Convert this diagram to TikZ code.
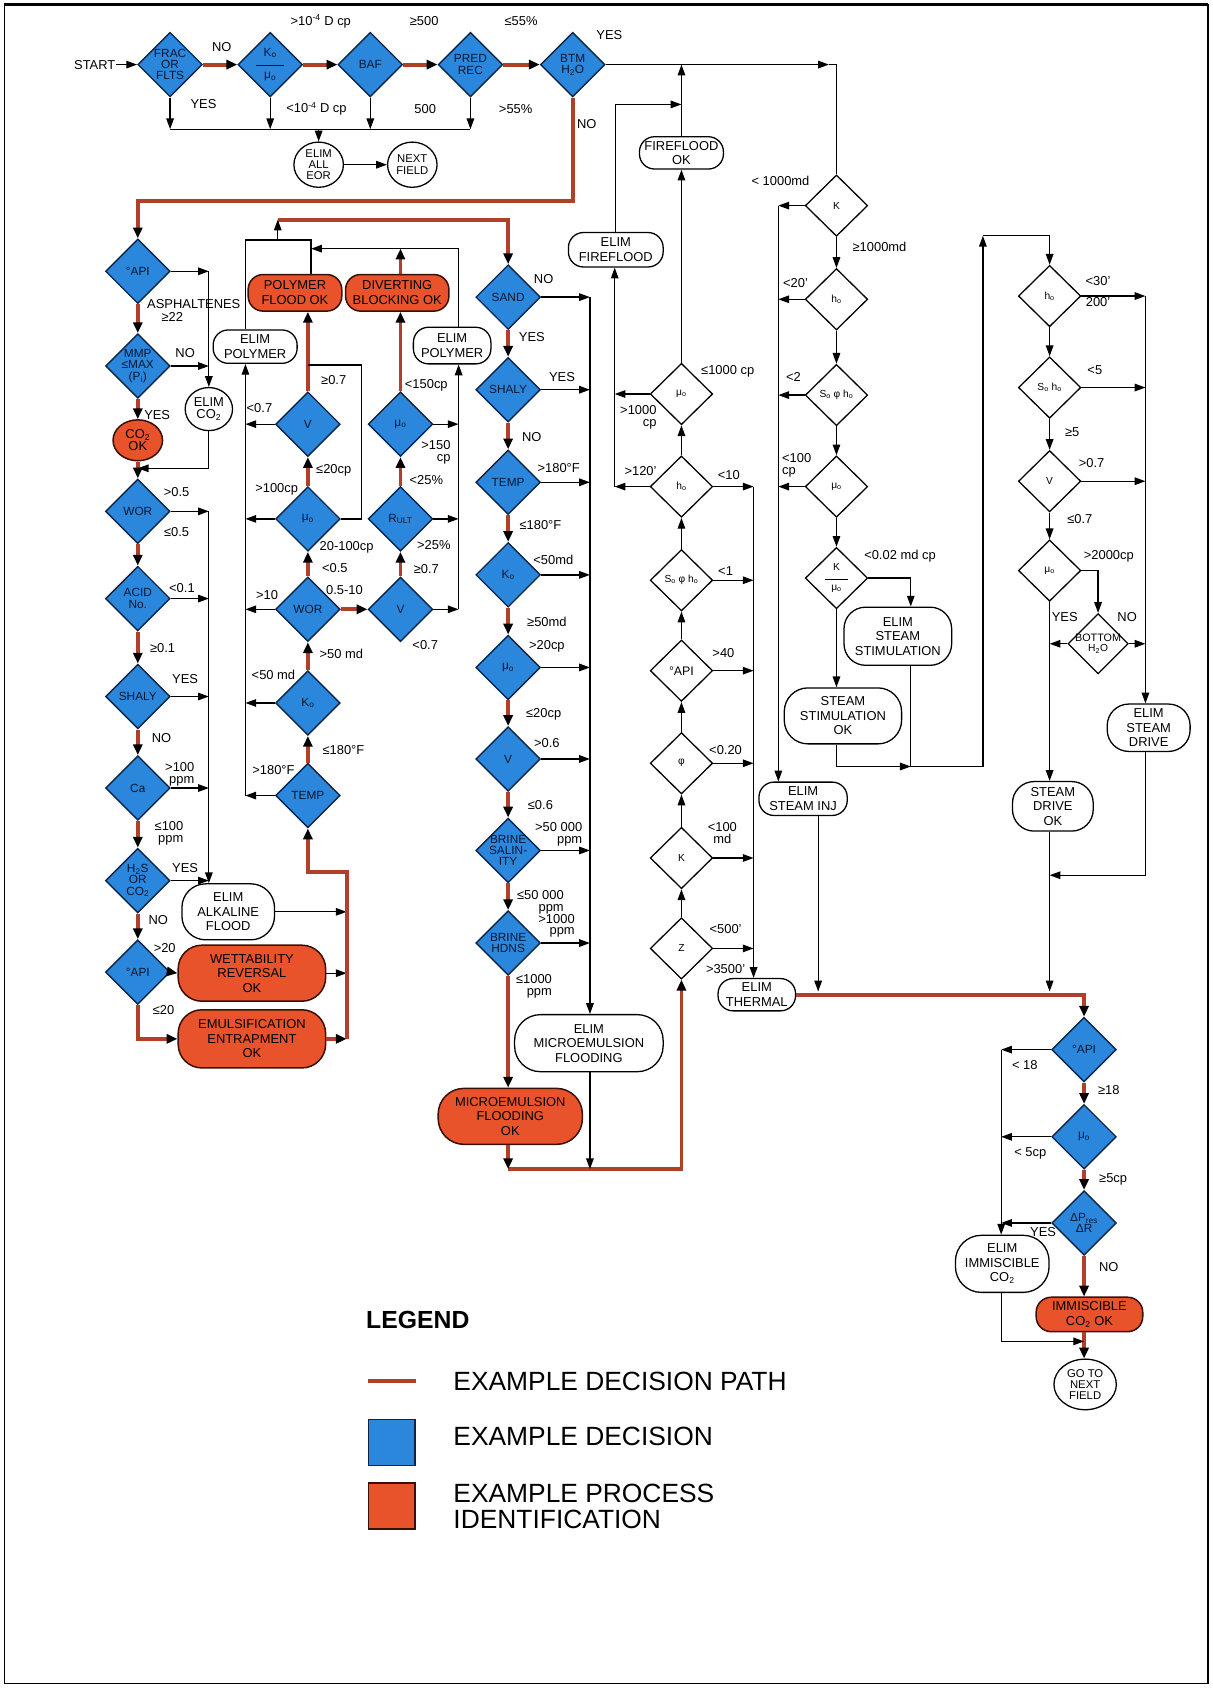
\documentclass[tikz,border=0pt]{standalone}
\usepackage{fontspec}
\setmainfont{Liberation Sans}
\usetikzlibrary{arrows.meta,shapes.geometric}
\definecolor{dblue}{HTML}{2A87DC}
\definecolor{bluedark}{HTML}{0B2447}
\definecolor{porange}{HTML}{E8532B}
\definecolor{odark}{HTML}{3A1006}
\definecolor{pathred}{HTML}{B0402A}
\definecolor{dtextc}{HTML}{081630}
\newcommand\Dia[4]{\node[#2] (#1) at (#3) {}; \node[dtx] (#1t) at (#1.center) {#4};}
\newcommand\Wia[4]{\node[#2] (#1) at (#3) {}; \node[wtx] (#1t) at (#1.center) {#4};}
\newcommand\lb[3]{\node[lab] (#1) at (#2) {#3};}
\newcommand\lbr[3]{\node[lab,align=right] (#1) at (#2) {#3};}
\newcommand\lbl[3]{\node[lab,align=left] (#1) at (#2) {#3};}
\newcommand\sub[1]{\textsubscript{#1}}
\tikzset{
 ln/.style={line width=1.2pt,draw=black},
 arr/.style={ln,-{Triangle[length=10pt,width=7pt]}},
 rp/.style={line width=3.6pt,draw=pathred},
 rarr/.style={rp,-{Triangle[length=10pt,width=8.5pt,color=black]}},
 bd/.style={diamond,draw=bluedark,fill=dblue,line width=1.3pt,minimum width=60pt,minimum height=60pt,inner sep=0pt},
 wd/.style={diamond,draw=black,fill=white,line width=1.2pt,minimum width=58pt,minimum height=57pt,inner sep=0pt},
 dtx/.style={text=dtextc,align=center,inner sep=0pt,font=\fontsize{11}{10.5}\selectfont},
 wtx/.style={align=center,inner sep=0pt,font=\fontsize{9.5}{9.5}\selectfont},
 lab/.style={inner sep=0pt,align=center,font=\fontsize{12}{11}\selectfont},
 capw/.style={rectangle,rounded corners=#1,draw=black,fill=white,line width=1.2pt,inner sep=0pt,align=center,font=\fontsize{12}{13.5}\selectfont},
 capw/.default=13pt,
 capo/.style={capw=#1,draw=odark,fill=porange,line width=1.4pt},
 capo/.default=13pt,
 ell/.style={ellipse,draw=black,fill=white,line width=1.2pt,inner sep=0pt,align=center,font=\fontsize{10.5}{10.5}\selectfont},
}
\begin{document}
\begin{tikzpicture}[x=1pt,y=-1pt]
\useasboundingbox (0,0) rectangle (1126,1568);
\draw[line width=1.4pt] (4,4) rectangle (1122,1564);
\draw[line width=3pt] (4,4) -- (1122,4);
% helper coordinates
\coordinate (r97) at (0,97); \coordinate (r120) at (0,120); \coordinate (r187) at (0,187);
\coordinate (r219) at (0,219); \coordinate (r223) at (0,223); \coordinate (r231) at (0,231);
\coordinate (r339) at (0,339); \coordinate (r435) at (0,435); \coordinate (r712) at (0,712);
\coordinate (r810) at (0,810); \coordinate (r813) at (0,813); \coordinate (r921) at (0,921);
\coordinate (r1086) at (0,1086); \coordinate (r1246) at (0,1246);
\coordinate (cx) at (194,0); \coordinate (bx) at (228,0); \coordinate (px) at (289,0);
\coordinate (sx) at (336,0); \coordinate (cx2) at (426,0); \coordinate (dx) at (548,0);
\coordinate (fx) at (571,0); \coordinate (ex) at (700,0); \coordinate (kx) at (723,0);
\coordinate (ix) at (760,0); \coordinate (sx2) at (846,0); \coordinate (gx) at (913,0);
\coordinate (gx2) at (1064,0); \coordinate (hx) at (930,0); \coordinate (rx) at (322,0);
\coordinate (tr) at (777,60); \coordinate (ta) at (770,60);
\coordinate (j1) at (258,223); \coordinate (j2) at (258,204);

% ---------- top row ----------
\lb{tstart}{88,60}{START}
\Dia{d1}{bd}{158,60}{FRAC\\OR\\FLTS}
\Dia{d2}{bd}{251,60}{K\sub{o}\\[-1pt]\rule{26pt}{0.9pt}\\[1pt]μ\sub{o}}
\Dia{d3}{bd}{344,60}{BAF}
\Dia{d4}{bd}{437,60}{PRED\\REC}
\Dia{d5}{bd}{532,60}{BTM\\H\sub{2}O}
\node[ell,minimum width=46pt,minimum height=42pt] (eor) at (296,153) {ELIM\\ALL\\EOR};
\node[ell,minimum width=46pt,minimum height=42pt] (nxt) at (383,153) {NEXT\\FIELD};
\draw[arr] (tstart) -- (d1);
\draw[rarr] (d1) -- (d2);
\draw[rarr] (d2) -- (d3);
\draw[rarr] (d3) -- (d4);
\draw[rarr] (d4) -- (d5);
\foreach \n in {d1,d2,d3,d4}{\draw[arr] (\n.south) -- (\n.south |- r120);}
\draw[ln] (d1.south |- r120) -- (d4.south |- r120);
\draw[arr] (eor.north |- r120) -- (eor);
\draw[arr] (eor) -- (nxt);
\lb{l1}{206,44}{NO}
\lb{l2}{298,20}{>10\textsuperscript{-4} D cp}
\lb{l3}{394,20}{≥500}
\lb{l4}{484,20}{≤55\%}
\lb{l5}{566,33}{YES}
\lb{l6}{189,97}{YES}
\lb{l7}{294,101}{<10\textsuperscript{-4} D cp}
\lb{l8}{395,101}{500}
\lb{l9}{479,101}{>55\%}
\lb{l10}{545,115}{NO}
\draw[arr] (d5.east) -- (ta);

% ---------- left column ----------
\Dia{api1}{bd}{128,252}{°API}
\Dia{mmp}{bd}{128,340}{MMP\\≤MAX\\(P\sub{i})}
\node[ell,fill=porange,draw=odark,line width=1.4pt,minimum width=46pt,minimum height=38pt,font=\fontsize{12}{11.5}\selectfont] (co2ok) at (128,409) {CO\sub{2}\\OK};
\node[ell,minimum width=44pt,minimum height=40pt,font=\fontsize{12}{11.5}\selectfont] (elimco2) at (194,380) {ELIM\\CO\sub{2}};
\Dia{wor1}{bd}{128,475}{WOR}
\Dia{acid}{bd}{128,556}{ACID\\No.}
\Dia{shaly1}{bd}{128,647}{SHALY}
\Dia{ca}{bd}{128,732}{Ca}
\Dia{hts}{bd}{128,818}{H\sub{2}S\\OR\\CO\sub{2}}
\Dia{api2}{bd}{128,903}{°API}
\node[capo=22pt,minimum width=137pt,minimum height=52pt] (wett) at (234,904) {WETTABILITY\\REVERSAL\\OK};
\node[capo=22pt,minimum width=137pt,minimum height=54pt] (emul) at (234,965) {EMULSIFICATION\\ENTRAPMENT\\OK};
\node[capw=22pt,minimum width=86pt,minimum height=52pt] (alk) at (212,847) {ELIM\\ALKALINE\\FLOOD};

\draw[rarr] (d5.south) |- (api1.north |- r187) -- (api1.north);
\draw[rarr] (api1) -- (mmp);
\draw[arr] (api1.east) -- (api1.east -| elimco2.north);
\draw[arr] (api1.east -| elimco2.north) -- (elimco2.north);
\draw[arr] (mmp.east) -- (mmp.east -| elimco2.north);
\draw[rarr] (mmp) -- (co2ok);
\draw[arr] (elimco2.south) |- (co2ok.south |- r435);
\draw[rarr] (co2ok) -- (wor1);
\draw[rarr] (wor1) -- (acid);
\draw[rarr] (acid) -- (shaly1);
\draw[rarr] (shaly1) -- (ca);
\draw[rarr] (ca) -- (hts);
\draw[rarr] (hts) -- (api2);
\foreach \n in {wor1,acid,shaly1,ca,hts}{\draw[arr] (\n.east) -- (\n.east -| cx);}
\draw[arr] (wor1.east -| cx) -- (cx |- alk.north);
\draw[rarr] (api2.east) -- (wett.west);
\draw[rarr] (api2.south) |- (emul.west);
\draw[arr] (wett.east) -- (wett.east -| rx);
\draw[arr] (alk.east) -- (alk.east -| rx);
\draw[rarr] (emul.east) -- (emul.east -| rx);
\lb{la1}{180,282}{ASPHALTENES}
\lb{la2}{160,294}{≥22}
\lb{la3}{172,328}{NO}
\lb{la4}{146,386}{YES}
\lb{la5}{164,457}{>0.5}
\lb{la6}{164,494}{≤0.5}
\lb{la7}{169,546}{<0.1}
\lb{la8}{151,602}{≥0.1}
\lb{la9}{172,631}{YES}
\lb{la10}{150,686}{NO}
\lbr{la11}{167,719}{>100\\ppm}
\lbr{la12}{157,774}{≤100\\ppm}
\lb{la13}{172,806}{YES}
\lb{la14}{147,855}{NO}
\lb{la15}{153,881}{>20}
\lb{la16}{152,938}{≤20}

% ---------- polymer columns ----------
\Dia{temp1}{bd}{286,739}{TEMP}
\Dia{ko1}{bd}{286,653}{K\sub{o}}
\Dia{wor2}{bd}{286,566}{WOR}
\Dia{mu2}{bd}{286,482}{μ\sub{o}}
\Dia{v1}{bd}{286,394}{V}
\Dia{v2}{bd}{372,566}{V}
\Dia{rult}{bd}{372,482}{R\sub{ULT}}
\Dia{mu3}{bd}{372,394}{μ\sub{o}}
\node[capo=14pt,minimum width=87pt,minimum height=34pt] (polok) at (274,272) {POLYMER\\FLOOD OK};
\node[capo=14pt,minimum width=96pt,minimum height=34pt] (divok) at (369,272) {DIVERTING\\BLOCKING OK};
\node[capw=14pt,minimum width=78pt,minimum height=31pt] (ep1) at (237,322) {ELIM\\POLYMER};
\node[capw=14pt,minimum width=72pt,minimum height=34pt] (ep2) at (420,321) {ELIM\\POLYMER};
\draw[rarr] (emul.east -| rx) |- (temp1.south |- r810) -- (temp1.south);
\draw[rarr] (temp1) -- (ko1);
\draw[rarr] (ko1) -- (wor2);
\draw[rarr] (wor2) -- (mu2);
\draw[rarr] (mu2) -- (v1);
\draw[rarr] (wor2) -- (v2);
\draw[rarr] (v2) -- (rult);
\draw[rarr] (rult) -- (mu3);
\draw[rarr] (v1.north) -- (v1.north |- polok.south);
\draw[rarr] (mu3.north) -- (mu3.north |- divok.south);
\foreach \n in {temp1,ko1,wor2,mu2,v1}{\draw[arr] (\n.west) -- (\n.west -| bx);}
\draw[arr] (temp1.west -| bx) -- (bx |- ep1.south);
\draw[ln] (mu2.east) -- (mu2.east -| sx) |- (v1.north |- r339);
\foreach \n in {v2,rult,mu3}{\draw[arr] (\n.east) -- (\n.east -| cx2);}
\draw[arr] (v2.east -| cx2) -- (cx2 |- ep2.south);
\draw[arr] (cx2 |- ep2.north) |- (px |- r231);
\draw[rarr] (mu3.north |- divok.north) -- (mu3.north |- r231);
\draw[ln] (bx |- ep1.north) |- (px |- r223) -- (px |- polok.north);
\lb{lb1}{254,715}{>180°F}
\lb{lb2}{319,697}{≤180°F}
\lb{lb3}{254,627}{<50 md}
\lb{lb4}{317,607}{>50 md}
\lb{lb5}{248,553}{>10}
\lb{lb6}{320,548}{0.5-10}
\lb{lb7}{311,528}{<0.5}
\lb{lb8}{322,508}{20-100cp}
\lb{lb9}{257,455}{>100cp}
\lb{lb10}{310,437}{≤20cp}
\lb{lb11}{241,379}{<0.7}
\lb{lb12}{310,353}{≥0.7}
\lb{lb13}{395,599}{<0.7}
\lb{lb14}{396,529}{≥0.7}
\lb{lb15}{403,506}{>25\%}
\lb{lb16}{396,446}{<25\%}
\lbr{lb17}{405,420}{>150\\cp}
\lb{lb18}{396,358}{<150cp}

% ---------- microemulsion column ----------
\Dia{sand}{bd}{472,276}{SAND}
\Dia{shaly2}{bd}{472,362}{SHALY}
\Dia{temp2}{bd}{472,448}{TEMP}
\Dia{ko2}{bd}{472,534}{K\sub{o}}
\Dia{mu4}{bd}{472,620}{μ\sub{o}}
\Dia{v3}{bd}{472,705}{V}
\Dia{brsal}{bd}{472,790}{BRINE\\SALIN-\\ITY}
\Dia{brhd}{bd}{472,876}{BRINE\\HDNS}
\node[capw=24pt,minimum width=138pt,minimum height=53pt] (elimmc) at (547,969) {ELIM\\MICROEMULSION\\FLOODING};
\node[capo=24pt,minimum width=134pt,minimum height=52pt] (mcok) at (474,1037) {MICROEMULSION\\FLOODING\\OK};
\draw[rarr] (j2) -| (sand.north);
\draw[arr] (j1) -- (j2);
\draw[rarr] (sand) -- (shaly2);
\draw[rarr] (shaly2) -- (temp2);
\draw[rarr] (temp2) -- (ko2);
\draw[rarr] (ko2) -- (mu4);
\draw[rarr] (mu4) -- (v3);
\draw[rarr] (v3) -- (brsal);
\draw[rarr] (brsal) -- (brhd);
\draw[rarr] (brhd.south) -- (brhd.south |- mcok.north);
\foreach \n in {sand,shaly2,temp2,ko2,mu4,v3,brsal,brhd}{\draw[arr] (\n.east) -- (\n.east -| dx);}
\draw[arr] (sand.east -| dx) -- (dx |- elimmc.north);
\lb{lc1}{505,259}{NO}
\lb{lc2}{494,313}{YES}
\lb{lc3}{522,350}{YES}
\lb{lc4}{494,406}{NO}
\lb{lc5}{519,435}{>180°F}
\lb{lc6}{502,488}{≤180°F}
\lb{lc7}{514,520}{<50md}
\lb{lc8}{508,578}{≥50md}
\lb{lc9}{508,600}{>20cp}
\lb{lc10}{505,664}{≤20cp}
\lb{lc11}{508,690}{>0.6}
\lb{lc12}{502,748}{≤0.6}
\lbr{lc13}{519,775}{>50 000\\ppm}
\lbr{lc14}{502,838}{≤50 000\\ppm}
\lbr{lc15}{517,860}{>1000\\ppm}
\lbr{lc16}{496,916}{≤1000\\ppm}

% ---------- fireflood column ----------
\node[capw=14pt,minimum width=78pt,minimum height=30pt] (ffok) at (633,142) {FIREFLOOD\\OK};
\node[capw=14pt,minimum width=88pt,minimum height=32pt] (elimff) at (572,232) {ELIM\\FIREFLOOD};
\Wia{z}{wd}{633,881}{Z}
\Wia{k3}{wd}{633,797}{K}
\Wia{phi}{wd}{633,709}{φ}
\Wia{api3}{wd}{633,623}{\fontsize{11.5}{11}\selectfont °API}
\Wia{sop}{wd}{633,539}{S\sub{o} φ h\sub{o}}
\Wia{ho1}{wd}{633,452}{h\sub{o}}
\Wia{mu5}{wd}{633,366}{μ\sub{o}}
\node[capw=14pt,minimum width=72pt,minimum height=30pt] (elimth) at (703,924) {ELIM\\THERMAL};
\draw[rarr] (brhd.south |- r1086) -| (z.south);
\draw[rarr] (brhd.south |- mcok.south) -- (brhd.south |- r1086);
\draw[arr] (dx |- elimmc.south) -- (dx |- r1086);
\draw[arr] (ffok.north) -- (ffok.north |- tr);
\draw[arr] (elimff.north) |- (ffok.north |- r97);
\draw[arr] (z) -- (k3);
\draw[arr] (k3) -- (phi);
\draw[arr] (phi) -- (api3);
\draw[arr] (api3) -- (sop);
\draw[arr] (sop) -- (ho1);
\draw[arr] (ho1) -- (mu5);
\draw[arr] (mu5) -- (ffok);
\foreach \n in {z,k3,phi,api3,sop,ho1}{\draw[arr] (\n.east) -- (\n.east -| ex);}
\draw[arr] (ho1.east -| ex) -- (ex |- elimth.north);
\draw[arr] (ho1.west) -- (ho1.west -| fx);
\draw[arr] (mu5.west) -- (mu5.west -| fx);
\draw[arr] (ho1.west -| fx) -- (fx |- elimff.south);
\lb{ld1}{676,345}{≤1000 cp}
\lbr{ld2}{593,388}{>1000\\cp}
\lb{ld3}{595,438}{>120'}
\lb{ld4}{677,441}{<10}
\lb{ld5}{674,530}{<1}
\lb{ld6}{672,607}{>40}
\lb{ld7}{674,697}{<0.20}
\lb{ld8}{671,774}{<100\\md}
\lb{ld9}{674,863}{<500'}
\lb{ld10}{674,900}{>3500'}

% ---------- steam stimulation column ----------
\Wia{k1}{wd}{777,191}{K}
\Wia{ho2}{wd}{777,278}{h\sub{o}}
\Wia{sop2}{wd}{777,367}{S\sub{o} φ h\sub{o}}
\Wia{mu6}{wd}{777,452}{μ\sub{o}}
\Wia{kmu}{wd}{777,537}{K\\[-1pt]\rule{22pt}{0.7pt}\\[1pt]μ\sub{o}}
\node[capw=20pt,minimum width=100pt,minimum height=54pt] (elimss) at (834,591) {ELIM\\STEAM\\STIMULATION};
\node[capw=22pt,minimum width=109pt,minimum height=52pt] (stimok) at (783,665) {STEAM\\STIMULATION\\OK};
\node[capw=14pt,minimum width=82pt,minimum height=31pt] (elimsi) at (746,742) {ELIM\\STEAM INJ};
\draw[ln] (ta) -- (tr) -- (k1.north);
\foreach \n in {k1,ho2,sop2,mu6}{\draw[arr] (\n.west) -- (\n.west -| kx);}
\draw[arr] (k1.west -| kx) -- (kx |- elimsi.north);
\draw[arr] (k1) -- (ho2);
\draw[arr] (ho2) -- (sop2);
\draw[arr] (sop2) -- (mu6);
\draw[arr] (mu6) -- (kmu);
\draw[arr] (kmu.south) -- (kmu.south |- stimok.north);
\draw[arr] (kmu.east) -| (sx2 |- elimss.north);
\draw[arr] (kmu.south |- stimok.south) |- (sx2 |- r712);
\draw[arr] (sx2 |- elimss.south) -- (sx2 |- r712) -- (gx |- r712) -- (gx |- r219);
\lb{le1}{725,168}{< 1000md}
\lb{le2}{817,229}{≥1000md}
\lb{le3}{739,263}{<20'}
\lb{le4}{737,350}{<2}
\lbl{le5}{740,432}{<100\\cp}
\lb{le6}{836,517}{<0.02 md cp}

% ---------- steam drive column ----------
\Wia{ho3}{wd}{975,275}{h\sub{o}}
\Wia{so2}{wd}{975,360}{S\sub{o} h\sub{o}}
\Wia{v4}{wd}{975,447}{V}
\Wia{mu7}{wd}{975,530}{μ\sub{o}}
\Wia{bot}{wd,minimum width=56pt,minimum height=56pt}{1020,598}{\fontsize{10}{10}\selectfont BOTTOM\\H\sub{2}O}
\node[capw=20pt,minimum width=77pt,minimum height=44pt] (elimsd) at (1067,676) {ELIM\\STEAM\\DRIVE};
\node[capw=20pt,minimum width=75pt,minimum height=46pt] (sdok) at (978,749) {STEAM\\DRIVE\\OK};
\draw[arr] (gx |- r219) -- (ho3.north |- r219) -- (ho3.north);
\foreach \n in {ho3,so2,v4}{\draw[arr] (\n.east) -- (\n.east -| gx2);}
\draw[arr] (ho3.east -| gx2) -- (gx2 |- elimsd.north);
\draw[arr] (ho3) -- (so2);
\draw[arr] (so2) -- (v4);
\draw[arr] (v4) -- (mu7);
\draw[arr] (mu7.east) -| (bot.north);
\draw[arr] (bot.west) -- (bot.west -| mu7.south);
\draw[arr] (bot.east) -- (bot.east -| gx2);
\draw[arr] (mu7.south) -- (mu7.south |- sdok.north);
\draw[arr] (gx2 |- elimsd.south) |- (mu7.south |- r813);
\draw[arr] (mu7.south |- sdok.south) -- (mu7.south |- r921);
\draw[arr] (ix |- elimsi.south) -- (ix |- r921);
\lb{lf1}{1020,261}{<30'}
\lb{lf2}{1020,281}{200'}
\lb{lf3}{1017,344}{<5}
\lb{lf4}{996,401}{≥5}
\lb{lf5}{1014,430}{>0.7}
\lb{lf6}{1003,482}{≤0.7}
\lb{lf7}{1030,517}{>2000cp}
\lb{lf8}{989,573}{YES}
\lb{lf9}{1047,573}{NO}

% ---------- immiscible CO2 column ----------
\Dia{api4}{bd}{1007,975}{°API}
\Dia{mu8}{bd}{1007,1056}{μ\sub{o}}
\Dia{dp}{bd}{1007,1136}{ΔP\sub{res}\\ΔR}
\node[capo=14pt,minimum width=99pt,minimum height=32pt] (immok) at (1012,1221) {IMMISCIBLE\\CO\sub{2} OK};
\node[capw=24pt,minimum width=87pt,minimum height=53pt] (elimimm) at (931,1174) {ELIM\\IMMISCIBLE\\CO\sub{2}};
\node[ell,minimum width=58pt,minimum height=47pt] (gonext) at (1008,1286) {GO TO\\NEXT\\FIELD};
\draw[rarr] (elimth.east) -| (api4.north);
\draw[rarr] (api4) -- (mu8);
\draw[rarr] (mu8) -- (dp);
\draw[rarr] (dp.south) -- (dp.south |- immok.north);
\draw[rarr] (dp.south |- immok.south) -- (dp.south |- gonext.north);
\foreach \n in {api4,mu8,dp}{\draw[arr] (\n.west) -- (\n.west -| hx);}
\draw[arr] (api4.west -| hx) -- (hx |- elimimm.north);
\draw[arr] (hx |- elimimm.south) |- (dp.south |- r1246);
\lb{lg1}{952,989}{< 18}
\lb{lg2}{1030,1013}{≥18}
\lb{lg3}{957,1071}{< 5cp}
\lb{lg4}{1034,1096}{≥5cp}
\lb{lg5}{969,1144}{YES}
\lb{lg6}{1030,1177}{NO}

% ---------- legend ----------
\node[anchor=west,inner sep=0pt,font=\bfseries\fontsize{23}{23}\selectfont] (lgd) at (340,1226) {LEGEND};
\coordinate (lr1) at (342,1283); \coordinate (lr2) at (386,1283);
\draw[rp] (lr1) -- (lr2);
\node[anchor=west,inner sep=0pt,font=\fontsize{24.5}{24}\selectfont] (lg1t) at (421,1283) {EXAMPLE DECISION PATH};
\node[draw=bluedark,fill=dblue,line width=1.4pt,minimum size=43pt,inner sep=0pt] (lgb) at (364,1340) {};
\node[anchor=west,inner sep=0pt,font=\fontsize{24.5}{24}\selectfont] (lg2t) at (421,1334) {EXAMPLE DECISION};
\node[draw=odark,fill=porange,line width=1.4pt,minimum size=43pt,inner sep=0pt] (lgo) at (364,1399) {};
\node[anchor=west,inner sep=0pt,align=left,font=\fontsize{24.5}{24}\selectfont] (lg3t) at (421,1399) {EXAMPLE PROCESS\\IDENTIFICATION};
\end{tikzpicture}
\end{document}
